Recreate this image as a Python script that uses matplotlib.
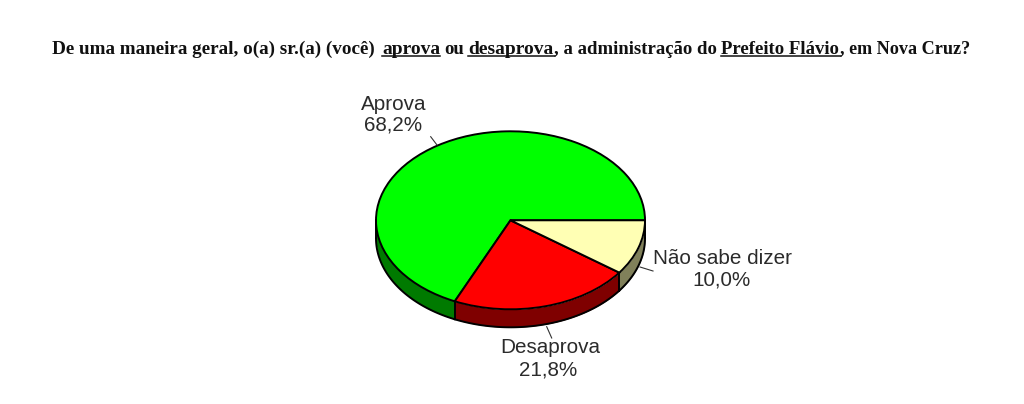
#!/usr/bin/env python3
# Pie chart with fake 3D wall - approval poll, Nova Cruz
import numpy as np
from matplotlib import pyplot as plt

##################---------Data---------#############################
categories = ['Aprova', 'Desaprova', 'Não sabe dizer']
values = [68.2, 21.8, 10.0]
value_labels = ['68,2%', '21,8%', '10,0%']
top_colors = ['#00ff00', '#ff0000', '#ffffb4']
wall_colors = ['#007a00', '#7f0000', '#80805a']
title_parts = ['De uma maneira geral, o(a) sr.(a) (você)', 'aprova', 'ou', 'desaprova',
               ', a administração do', 'Prefeito Flávio', ', em Nova Cruz?']

##################---------Layout---------#############################
WIDTH = 1024
HEIGHT = 404
CX, CY = 510.5, 220.3
RX, RY = 134.5, 89.0
WALL = 18.0 / RY
TEXT_COLOR = '#2b2b2b'
TITLE_SIZE = 13.5
LABEL_SIZE = 14.9
# left edge of each title piece and right end of its underline
TITLE_X = [52, 382, 444, 468, 554, 721, 840]
TITLE_SIZES = [13.8, 14.0, TITLE_SIZE, 14.0, TITLE_SIZE, TITLE_SIZE, 13.1]
UNDERLINE_END = [None, 440, None, 555, None, 841, None]
TITLE_BASE = 53.5


def fx(x):
    return x / WIDTH


def fy(y):
    return 1 - y / HEIGHT


def main():
    fig = plt.figure(figsize=(WIDTH / 100, HEIGHT / 100), dpi=100)
    # axes fills the figure, one data unit = pie radius (different in x and y)
    ax = fig.add_axes([0, 0, 1, 1])

    # side wall first, only the front half of the circle shows
    edges = 360 * np.cumsum([0] + values) / sum(values)
    for i in range(len(values)):
        a0, a1 = max(edges[i], 180), edges[i + 1]
        t = np.radians(np.linspace(a0, a1, 80))
        ax.fill_between(np.cos(t), np.sin(t), np.sin(t) - WALL, color=wall_colors[i], lw=0, zorder=1)
        ax.plot(np.cos(t), np.sin(t) - WALL, color='black', lw=1.4, zorder=2)
        ax.plot([np.cos(t[0])] * 2, [np.sin(t[0]), np.sin(t[0]) - WALL], color='black', lw=1.4, zorder=2)
    ax.plot([1, 1], [0, -WALL], color='black', lw=1.4, zorder=2)

    ax.pie(values, colors=top_colors, startangle=0, radius=1,
           wedgeprops={'edgecolor': 'black', 'linewidth': 1.4, 'zorder': 3})
    ax.set_aspect('auto')
    ax.set_xlim(-CX / RX, (WIDTH - CX) / RX)
    ax.set_ylim((CY - HEIGHT) / RY, CY / RY)
    ax.axis('off')

    # leader lines
    leaders = [((430.7, 136.7), (437, 145)), ((546.7, 326.7), (551.7, 338)), ((640, 267), (653, 271))]
    for (x0, y0), (x1, y1) in leaders:
        fig.add_artist(plt.Line2D([fx(x0), fx(x1)], [fy(y0), fy(y1)], color='#333333', lw=0.8))

    # labels, x centre and baseline of each of the two rows
    label_pos = [(394, 110, 393.5, 130.5), (550, 353, 548, 375), (722.5, 263.5, 722, 285.5)]
    for i, (x0, y0, x1, y1) in enumerate(label_pos):
        fig.text(fx(x0), fy(y0), categories[i], ha='center', va='baseline', fontsize=LABEL_SIZE,
                 family='Liberation Sans', color=TEXT_COLOR)
        fig.text(fx(x1), fy(y1), value_labels[i], ha='center', va='baseline', fontsize=LABEL_SIZE,
                 family='Liberation Sans', color=TEXT_COLOR)

    # title, piece by piece so the underlines can be placed
    for x, txt, size, end in zip(TITLE_X, title_parts, TITLE_SIZES, UNDERLINE_END):
        fig.text(fx(x), fy(TITLE_BASE), txt, ha='left', va='baseline', fontsize=size,
                 family='Liberation Serif', weight='bold', color='#111111')
        if end is not None:
            fig.add_artist(plt.Line2D([fx(x), fx(end)], [fy(TITLE_BASE + 2.5)] * 2, color='#111111', lw=1.1))

    fig.savefig('out.png', dpi=100)


if __name__ == '__main__':
    main()
